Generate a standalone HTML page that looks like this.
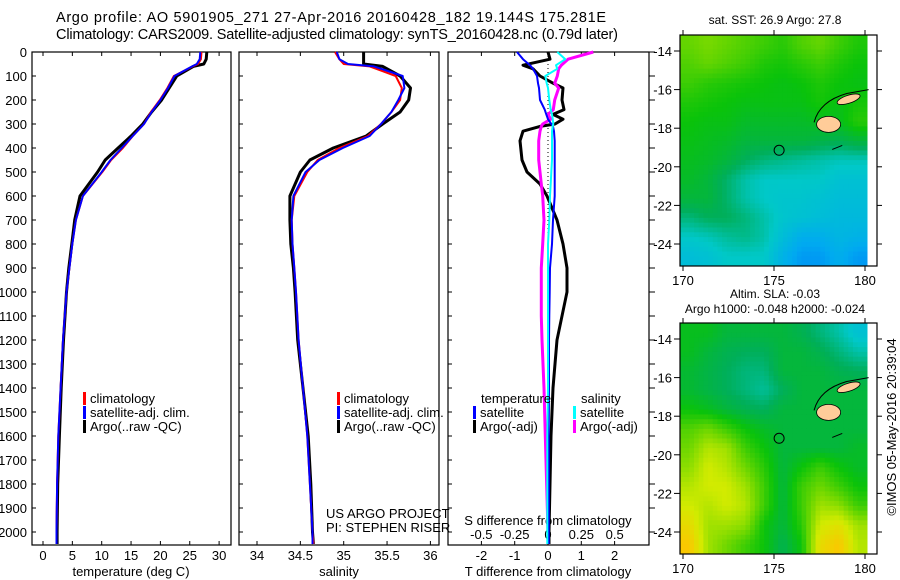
<!DOCTYPE html>
<html><head><meta charset="utf-8"><style>
html,body{margin:0;padding:0;background:#fff;}
svg{display:block;font-family:"Liberation Sans",sans-serif;}
</style></head><body>
<svg id="c" width="900" height="580" viewBox="0 0 900 580" xmlns="http://www.w3.org/2000/svg">
<text x="56" y="22" font-size="14.5" textLength="550">Argo profile: AO 5901905_271 27-Apr-2016 20160428_182 19.144S 175.281E</text>
<text x="56" y="39" font-size="14.5" textLength="562">Climatology: CARS2009. Satellite-adjusted climatology: synTS_20160428.nc (0.79d later)</text>
<g id="g"></g>
</svg>
<script>
// ---- data ----
var depthTicks=[0,100,200,300,400,500,600,700,800,900,1000,1100,1200,1300,1400,1500,1600,1700,1800,1900,2000];
var tTicks=[0,5,10,15,20,25,30];
var sTicks=[34,34.5,35,35.5,36];
var sTickLabels=["34","34.5","35","35.5","36"];
var dTTicks=[-2,-1,0,1,2];
var dSTicks=[-0.5,-0.25,0,0.25,0.5];
var dSTickLabels=["-0.5","-0.25","0","0.25","0.5"];
var latTicks=[-14,-16,-18,-20,-22,-24];
var lonTicks=[170,175,180];

var profDepth=[0,30,50,60,100,150,200,250,300,350,400,450,500,600,700,800,900,1000,1200,1400,1600,1800,2000,2050];
var tempArgo=[27.9,27.8,27.4,25.6,22.8,21.5,20.2,18.5,17.0,15.0,12.8,10.6,9.3,6.3,5.4,4.9,4.4,4.0,3.5,3.1,2.8,2.5,2.4,2.4];
var tempClim=[27.0,26.9,26.4,25.5,22.3,21.2,19.9,18.4,17.2,15.3,13.6,11.6,10.1,6.8,5.6,5.0,4.5,4.0,3.4,3.0,2.6,2.4,2.3,2.3];
var tempSat=[26.8,26.7,26.2,25.4,22.4,21.3,20.0,18.5,17.2,15.3,13.4,11.5,10.0,6.8,5.6,5.0,4.5,4.0,3.4,3.0,2.6,2.4,2.3,2.3];
var salArgo=[35.23,35.23,35.23,35.45,35.65,35.77,35.75,35.65,35.45,35.26,34.88,34.61,34.5,34.38,34.38,34.39,34.42,34.44,34.47,34.53,34.59,34.62,34.64,34.65];
var salClim=[34.9,34.95,35.0,35.3,35.6,35.67,35.65,35.55,35.43,35.28,34.95,34.7,34.58,34.43,34.4,34.41,34.43,34.45,34.48,34.53,34.58,34.61,34.64,34.65];
var salSat=[34.92,34.95,35.05,35.35,35.68,35.7,35.63,35.55,35.43,35.3,34.99,34.72,34.56,34.42,34.4,34.41,34.43,34.45,34.48,34.53,34.58,34.61,34.64,34.64];

var diffDepth=[0,30,55,70,100,130,150,200,240,260,280,300,310,330,370,450,500,550,600,700,800,900,1000,1100,1200,1400,1600,2000,2050];
var dTArgo=[0,0.06,-0.75,-0.45,-0.24,0.15,0.45,0.42,0.48,0.15,0.45,0.21,-0.24,-0.75,-0.84,-0.78,-0.63,-0.24,-0.03,0.27,0.45,0.57,0.57,0.42,0.27,0.15,0.09,0.03,0.03];
var dTSat=[-0.93,-0.75,-0.54,-0.45,-0.33,-0.3,-0.27,-0.24,-0.1,-0.05,0,0.1,0.15,0.18,0.2,0.2,0.2,0.2,0.2,0.15,0.12,0.06,0.05,0.04,0.03,0.03,0.02,0.02,0.02];
var dSArgo=[0.34,0.15,0.1,0.08,0.07,0.05,0.08,0.05,0.04,0.0,0.02,-0.04,-0.05,-0.06,-0.07,-0.07,-0.06,-0.05,-0.04,-0.03,-0.04,-0.05,-0.05,-0.05,-0.045,-0.03,-0.02,0,0];
var dSSat=[0.07,0.13,0.06,0.07,-0.02,-0.01,0,0.01,0.02,0.03,0.035,0.04,0.035,0.03,0.03,0.03,0.025,0.02,0.015,0.01,0.0,0.0,0.0,0,0,0,-0.005,-0.005,-0.005];

var sstGrid=[
[.64,.66,.64,.62,.60,.58,.62,.64,.60,.57],
[.62,.64,.62,.60,.57,.56,.58,.60,.57,.55],
[.60,.58,.57,.56,.55,.54,.55,.57,.55,.54],
[.57,.56,.55,.54,.54,.54,.54,.56,.54,.56],
[.55,.54,.54,.52,.52,.52,.52,.53,.53,.58],
[.54,.53,.52,.50,.50,.50,.50,.49,.48,.50],
[.53,.52,.50,.47,.45,.44,.43,.42,.41,.41],
[.52,.50,.46,.42,.40,.40,.40,.40,.38,.38],
[.50,.50,.46,.42,.40,.39,.39,.38,.37,.37],
[.45,.47,.47,.45,.42,.39,.38,.37,.36,.36],
[.40,.41,.43,.44,.42,.37,.33,.33,.35,.34],
[.37,.38,.40,.40,.40,.34,.30,.30,.33,.30]];
var slaGrid=[
[.53,.53,.50,.50,.50,.50,.48,.45,.42,.38],
[.53,.50,.48,.47,.47,.50,.50,.48,.45,.42],
[.51,.49,.47,.45,.45,.50,.50,.50,.48,.47],
[.51,.49,.47,.45,.43,.47,.50,.50,.50,.50],
[.55,.53,.50,.48,.47,.50,.50,.50,.50,.50],
[.62,.65,.60,.55,.52,.50,.50,.50,.50,.50],
[.65,.72,.70,.60,.55,.50,.50,.50,.50,.52],
[.68,.75,.72,.65,.58,.50,.55,.60,.55,.52],
[.72,.75,.75,.70,.60,.50,.60,.65,.60,.55],
[.75,.72,.75,.72,.60,.50,.60,.70,.68,.60],
[.80,.70,.70,.68,.55,.50,.58,.75,.78,.70],
[.85,.70,.65,.60,.55,.48,.55,.80,.85,.72]];
var floatLon=175.281, floatLat=-19.144;

// ---- helpers ----
var NS="http://www.w3.org/2000/svg";
var G=document.getElementById('g');
function mk(t,a,p){var e=document.createElementNS(NS,t);for(var k in a)e.setAttribute(k,a[k]);(p||G).appendChild(e);return e;}
function txt(x,y,s,size,anchor,p){var e=mk('text',{x:x,y:y,'font-size':size||13,'text-anchor':anchor||'start'},p);e.textContent=s;return e;}
var Y=function(d){return 52+d*0.24;};
var PT=function(v){return 43+v*5.87;};
var PS=function(v){return 257+(v-34)*86.7;};
var PDT=function(v){return 548+v*33.3;};
var PDS=function(v){return 548+v*133.3;};

var panels=[[32,231,'temperature-panel'],[239,439,'salinity-panel'],[448,649,'difference-panel']];
panels.forEach(function(p){
  var r=mk('rect',{x:p[0],y:52,width:p[1]-p[0],height:493,fill:'none',stroke:'#000','stroke-width':1.2});
  
  
  depthTicks.forEach(function(d){
    mk('line',{x1:p[0],x2:p[0]+4,y1:Y(d),y2:Y(d),stroke:'#000'});
    if(p[2]==='difference-panel') mk('line',{x1:p[1],x2:p[1]+6,y1:Y(d),y2:Y(d),stroke:'#000'});
  });
});
depthTicks.forEach(function(d){
  var t=txt(27,Y(d)+5,String(d),13,'end');
  
  
});
tTicks.forEach(function(v,i){
  mk('line',{x1:PT(v),x2:PT(v),y1:545,y2:541,stroke:'#000'});mk('line',{x1:PT(v),x2:PT(v),y1:52,y2:56,stroke:'#000'});
  var t=txt(PT(v),560,String(v),13,'middle');
  
  
});
sTicks.forEach(function(v,i){
  mk('line',{x1:PS(v),x2:PS(v),y1:545,y2:541,stroke:'#000'});mk('line',{x1:PS(v),x2:PS(v),y1:52,y2:56,stroke:'#000'});
  var t=txt(PS(v),560,sTickLabels[i],13,'middle');
  
  
});
dTTicks.forEach(function(v){
  mk('line',{x1:PDT(v),x2:PDT(v),y1:545,y2:541,stroke:'#000'});mk('line',{x1:PDT(v),x2:PDT(v),y1:52,y2:56,stroke:'#000'});
  var t=txt(PDT(v),560,String(v),13,'middle');
  
  
});
dSTicks.forEach(function(v,i){
  var t=txt(PDS(v),539,dSTickLabels[i],13,'middle');
  
  
});
var xt=[[131,'temperature (deg C)','temperature-axis-title'],[339,'salinity','salinity-axis-title'],[548,'T difference from climatology','t-diff-axis-title']];
xt.forEach(function(a){var t=txt(a[0],576,a[1],13,'middle');
  
  });
var st=txt(548,525,'S difference from climatology',13,'middle');


var zl=mk('line',{x1:548,x2:548,y1:52,y2:545,stroke:'#000','stroke-dasharray':'1,3'});



function line(xs,ys,xf,color,w,name){
  var pts=xs.map(function(v,i){return xf(v).toFixed(1)+','+Y(ys[i]).toFixed(1);}).join(' ');
  var e=mk('polyline',{points:pts,fill:'none',stroke:color,'stroke-width':w,'stroke-linejoin':'round'});
  
  
}
line(tempArgo,profDepth,PT,'#000',3,'temp-argo-line');
line(tempClim,profDepth,PT,'#f00',2,'temp-climatology-line');
line(tempSat,profDepth,PT,'#00f',2,'temp-satellite-line');
line(salArgo,profDepth,PS,'#000',3,'sal-argo-line');
line(salClim,profDepth,PS,'#f00',2,'sal-climatology-line');
line(salSat,profDepth,PS,'#00f',2,'sal-satellite-line');
line(dTArgo,diffDepth,PDT,'#000',3,'t-diff-argo-line');
line(dSArgo,diffDepth,PDS,'#f0f',3,'s-diff-argo-line');
line(dTSat,diffDepth,PDT,'#00f',2,'t-diff-satellite-line');
line(dSSat,diffDepth,PDS,'#0ff',2,'s-diff-satellite-line');

function leg(x,y,c,s,name){
  mk('rect',{x:x,y:y-11,width:3,height:13,fill:c});
  var t=txt(x+7,y,s,13);
  
  
}
[[83,'temp'],[337,'sal']].forEach(function(a){
  leg(a[0],403,'#f00','climatology',a[1]+'-legend-climatology');
  leg(a[0],417,'#00f','satellite-adj. clim.',a[1]+'-legend-satellite');
  leg(a[0],431,'#000','Argo(..raw -QC)',a[1]+'-legend-argo');
});
var lt=txt(481,403,'temperature',13);
var ls=txt(581,403,'salinity',13);
leg(473,417,'#00f','satellite','legend-t-satellite');
leg(473,431,'#000','Argo(-adj)','legend-t-argo');
leg(573,417,'#0ff','satellite','legend-s-satellite');
leg(573,431,'#f0f','Argo(-adj)','legend-s-argo');
var u1=txt(326,518,'US ARGO PROJECT',13);
var u2=txt(326,532,'PI: STEPHEN RISER',13);

// ---- maps ----
var stops=[[0,[0,0,170]],[0.22,[0,90,255]],[0.32,[0,170,240]],[0.4,[0,200,200]],[0.47,[0,175,90]],[0.55,[10,195,10]],[0.65,[110,215,0]],[0.75,[210,235,0]],[0.85,[250,200,0]],[1,[240,80,0]]];
function cmap(v){for(var i=1;i<stops.length;i++){if(v<=stops[i][0]){var a=stops[i-1],b=stops[i],f=(v-a[0])/(b[0]-a[0]);var c=a[1].map(function(x,j){return Math.round(x+(b[1][j]-x)*f);});return 'rgb('+c+')';}}return 'rgb(240,80,0)';}
function sample(grid,fy,fx){
  var rows=grid.length,cols=grid[0].length;
  fy=Math.max(0,Math.min(rows-1,fy));fx=Math.max(0,Math.min(cols-1,fx));
  var i0=Math.floor(fy),j0=Math.floor(fx),i1=Math.min(rows-1,i0+1),j1=Math.min(cols-1,j0+1),a=fy-i0,b=fx-j0;
  return grid[i0][j0]*(1-a)*(1-b)+grid[i0][j1]*(1-a)*b+grid[i1][j0]*a*(1-b)+grid[i1][j1]*a*b;
}
function drawMap(top,grid,name,t1,t2){
  var L=680,R=877,B=top+231,dataR=867;
  var lonX=function(lo){return 683+(lo-170)*18.2;};
  var latY=function(la){return top+16+(-14-la)*19.3;};
  var rows=grid.length,cols=grid[0].length,sub=4,cw=(dataR-L)/(cols*sub),ch=(B-top)/(rows*sub);
  var gg=mk('g',{});
  
  
  for(var i=0;i<rows*sub;i++)for(var j=0;j<cols*sub;j++){
    var v=sample(grid,(i+0.5)/sub-0.5,(j+0.5)/sub-0.5);
    var c=mk('rect',{x:(L+j*cw).toFixed(2),y:(top+i*ch).toFixed(2),width:(cw+0.5).toFixed(2),height:(ch+0.5).toFixed(2),fill:cmap(v)},gg);
    
    
  }
  var isl1=mk('ellipse',{cx:lonX(178),cy:latY(-17.8),rx:12,ry:8,fill:'#fc9',stroke:'#000','stroke-width':0.8});
  
  var isl2=mk('ellipse',{cx:lonX(179.1),cy:latY(-16.5),rx:12,ry:4,fill:'#fc9',stroke:'#000','stroke-width':0.8,transform:'rotate(-18 '+lonX(179.1)+' '+latY(-16.5)+')'});
  
  mk('path',{d:'M'+(lonX(177.2))+','+latY(-17.7)+' Q'+lonX(177.5)+','+latY(-16.6)+' '+lonX(179)+','+latY(-16.2)+' L'+lonX(180.2)+','+latY(-16)+' M'+lonX(178.2)+','+latY(-19.1)+' l10,-4',fill:'none',stroke:'#000','stroke-width':1});
  var fl=mk('circle',{cx:lonX(floatLon),cy:latY(floatLat),r:5,fill:'none',stroke:'#000','stroke-width':1});
  
  var fr=mk('rect',{x:L,y:top,width:R-L,height:B-top,fill:'none',stroke:'#000','stroke-width':1.2});
  
  latTicks.forEach(function(la){var y=latY(la);
    mk('line',{x1:L-6,x2:L,y1:y,y2:y,stroke:'#000'});mk('line',{x1:R,x2:R+5,y1:y,y2:y,stroke:'#000'});
    var t=txt(L-8,y+5,String(la),13,'end');});
  lonTicks.forEach(function(lo){var x=lonX(lo);
    mk('line',{x1:x,x2:x,y1:B,y2:B+5,stroke:'#000'});mk('line',{x1:x,x2:x,y1:top-5,y2:top,stroke:'#000'});
    var t=txt(x,B+19,String(lo),13,'middle');});
  var a=txt(775,t2?top-25:top-11,t1,12,'middle');
  if(t2){var b=txt(775,top-10,t2,12,'middle');}
}
drawMap(35,sstGrid,'sst-map','sat. SST: 26.9 Argo: 27.8');
drawMap(323,slaGrid,'sla-map','Altim. SLA: -0.03','Argo h1000: -0.048 h2000: -0.024');
var im=txt(0,0,'©IMOS 05-May-2016 20:39:04',13,'middle');
im.setAttribute('transform','translate(896,427) rotate(-90)');


</script>
</body></html>
